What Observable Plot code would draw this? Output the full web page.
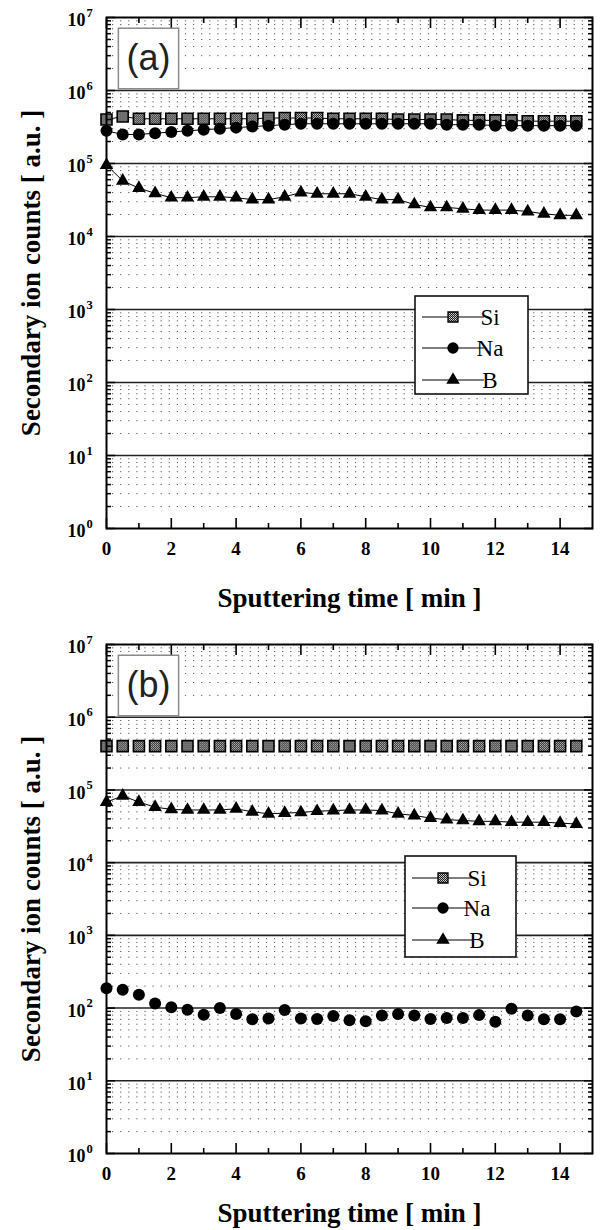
<!DOCTYPE html>
<html><head><meta charset="utf-8">
<script src="https://cdn.jsdelivr.net/npm/d3@7"></script>
<script src="https://cdn.jsdelivr.net/npm/@observablehq/plot@0.6"></script>
<style>
html,body{margin:0;padding:0;background:#fff;}
#chart svg{display:block;}
</style></head><body><div id="chart"></div>
<script>
// ---- data ----
const time = [0,0.5,1,1.5,2,2.5,3,3.5,4,4.5,5,5.5,6,6.5,7,7.5,8,8.5,9,9.5,10,10.5,11,11.5,12,12.5,13,13.5,14,14.5];
const siA = [4.0e5,4.4e5,4.1e5,4.1e5,4.1e5,4.1e5,4.1e5,4.1e5,4.1e5,4.1e5,4.2e5,4.2e5,4.2e5,4.2e5,4.1e5,4.1e5,4.1e5,4.1e5,4.0e5,4.0e5,4.0e5,4.0e5,3.9e5,3.9e5,3.9e5,3.9e5,3.8e5,3.8e5,3.8e5,3.8e5];
const naA = [2.8e5,2.5e5,2.5e5,2.6e5,2.7e5,2.8e5,2.9e5,3.0e5,3.1e5,3.2e5,3.3e5,3.4e5,3.5e5,3.5e5,3.5e5,3.5e5,3.5e5,3.5e5,3.5e5,3.5e5,3.5e5,3.4e5,3.4e5,3.4e5,3.3e5,3.3e5,3.3e5,3.3e5,3.3e5,3.3e5];
const bA  = [9.5e4,5.8e4,4.6e4,3.9e4,3.4e4,3.4e4,3.5e4,3.5e4,3.4e4,3.2e4,3.2e4,3.5e4,4.0e4,3.85e4,3.85e4,3.85e4,3.5e4,3.2e4,3.2e4,2.75e4,2.5e4,2.5e4,2.4e4,2.3e4,2.3e4,2.3e4,2.2e4,2.05e4,1.95e4,1.95e4];
const siB = [4.0e5,4.0e5,4.0e5,4.0e5,4.0e5,4.0e5,4.0e5,4.0e5,4.0e5,4.0e5,4.0e5,4.0e5,4.0e5,4.0e5,4.0e5,4.0e5,4.0e5,4.0e5,4.0e5,4.0e5,4.0e5,4.0e5,4.0e5,4.0e5,4.0e5,4.0e5,4.0e5,4.0e5,4.0e5,4.0e5];
const naB = [188,178,152,116,103,95,81,100,83,70,72,94,72,71,78,68,66,79,83,79,71,73,73,80,65,98,79,70,70,90];
const bB  = [6.8e4,8.3e4,6.8e4,5.8e4,5.4e4,5.3e4,5.3e4,5.3e4,5.5e4,5.0e4,4.7e4,4.8e4,4.9e4,5.1e4,5.2e4,5.3e4,5.3e4,5.2e4,4.7e4,4.45e4,4.1e4,3.9e4,3.8e4,3.7e4,3.7e4,3.6e4,3.6e4,3.6e4,3.5e4,3.4e4];
const seriesNames = ["Si","Na","B"];
const decades = [1,10,100,1e3,1e4,1e5,1e6,1e7];
const xTickLabels = [0,2,4,6,8,10,12,14];
const xMinorTicks = [1,3,5,7,9,11,13];
const minorMultipliers = [2,3,4,5,6,7,8,9];
const yTitle = "Secondary ion counts [ a.u. ]";
const xTitle = "Sputtering time [ min ]";

const minorY = decades.slice(0,-1).flatMap(d => minorMultipliers.map(m => m*d));
const serif = "'Liberation Serif','Times New Roman',serif";

function addDefs(svg, id) {
  const defs = d3.select(svg).insert("defs", ":first-child");
  const p = defs.append("pattern").attr("id", id).attr("width", 2).attr("height", 2).attr("patternUnits", "userSpaceOnUse");
  p.append("rect").attr("width", 2).attr("height", 2).attr("fill", "#1a1a1a");
  p.append("rect").attr("x", 0).attr("y", 0).attr("width", 1).attr("height", 1).attr("fill", "#d8d8d8");
  p.append("rect").attr("x", 1).attr("y", 1).attr("width", 1).attr("height", 1).attr("fill", "#b0b0b0");
}

function drawLegend(svg, ml, mt, L, patId) {
  const g = d3.select(svg).append("g").attr("transform", `translate(${ml},${mt})`);
  g.append("rect").attr("x", L.box[0]).attr("y", L.box[1]).attr("width", L.box[2]).attr("height", L.box[3])
    .attr("fill", "white").attr("stroke", "#111").attr("stroke-width", 1.6);
  const syms = [d3.symbol().type(d3.symbolSquare).size(100), d3.symbol().type(d3.symbolCircle).size(100), d3.symbol().type(d3.symbolTriangle).size(78)];
  const fills = [`url(#${patId})`, "#000", "#000"];
  seriesNames.forEach((name, i) => {
    const y = L.rows[i];
    g.append("line").attr("x1", L.line[0]).attr("x2", L.line[1]).attr("y1", y).attr("y2", y).attr("stroke", "#000").attr("stroke-width", 1.2);
    g.append("path").attr("d", syms[i]()).attr("transform", `translate(${L.mark},${y})`).attr("fill", fills[i]).attr("stroke", "#000").attr("stroke-width", i === 0 ? 1.3 : 0);
    g.append("text").attr("x", L.text).attr("y", y + 8)
      .style("font-family", serif).style("font-size", "23px").style("font-weight", "normal")
      .attr("fill", "#000").text(name);
  });
}

function panel(cfg) {
  const {si, na, b, label, mt, mb, xTitleDy, siLine, naLine, legend, patId} = cfg;
  const rows = time.map((t, i) => ({t, si: si[i], na: na[i], b: b[i]}));
  const fillSi = `url(#${patId})`;
  const tickOpts = {tickFormat: () => "", label: null, stroke: "#000"};
  const marks = [
    Plot.ruleY(minorY, {stroke: "#555", strokeWidth: 1, strokeDasharray: "1.2,6.9", strokeDashoffset: -6}),
    Plot.ruleY(decades.slice(1, -1), {stroke: "#222", strokeWidth: 1.6}),
    siLine ? Plot.line(rows, {x: "t", y: "si", stroke: "#000", strokeWidth: 1}) : null,
    naLine ? Plot.line(rows, {x: "t", y: "na", stroke: "#000", strokeWidth: 1}) : null,
    Plot.line(rows, {x: "t", y: "b", stroke: "#000", strokeWidth: 1}),
    Plot.dot(rows, {x: "t", y: "si", symbol: "square", r: 6.2, fill: fillSi, stroke: "#000", strokeWidth: 1.6}),
    Plot.dot(rows, {x: "t", y: "na", symbol: "circle", r: 6, fill: "#000", stroke: "none"}),
    Plot.dot(rows, {x: "t", y: "b", symbol: "triangle", r: 5, fill: "#000", stroke: "none"}),
    Plot.frame({stroke: "#000", strokeWidth: 2}),
    Plot.axisY({anchor: "left", ticks: decades, tickSize: -9, strokeWidth: 1.5, ...tickOpts}),
    Plot.axisY({anchor: "left", ticks: minorY, tickSize: -5, strokeWidth: 1.5, ...tickOpts}),
    Plot.axisY({anchor: "right", ticks: decades, tickSize: -9, strokeWidth: 1.5, ...tickOpts}),
    Plot.axisY({anchor: "right", ticks: minorY, tickSize: -5, strokeWidth: 1.5, ...tickOpts}),
    Plot.axisX({anchor: "bottom", ticks: xTickLabels, tickSize: -10, strokeWidth: 1.6, ...tickOpts}),
    Plot.axisX({anchor: "bottom", ticks: xMinorTicks, tickSize: -5, strokeWidth: 1.6, ...tickOpts}),
    Plot.axisX({anchor: "top", ticks: xTickLabels, tickSize: -10, strokeWidth: 1.6, ...tickOpts}),
    Plot.axisX({anchor: "top", ticks: xMinorTicks, tickSize: -5, strokeWidth: 1.6, ...tickOpts}),
    // y tick labels 10^n
    Plot.text(decades, {y: d => d, frameAnchor: "left", text: () => "10", textAnchor: "end", lineAnchor: "middle", dx: -21, dy: 3, fontSize: 18, fontWeight: "bold", fill: "#000"}),
    Plot.text(decades, {y: d => d, frameAnchor: "left", text: d => String(Math.round(Math.log10(d))), textAnchor: "start", lineAnchor: "middle", dx: -20, dy: -5, fontSize: 12.5, fontWeight: "bold", fill: "#000"}),
    // x tick labels
    Plot.text(xTickLabels, {x: d => d, frameAnchor: "bottom", text: d => String(d), textAnchor: "middle", lineAnchor: "middle", dy: 20, fontSize: 19, fontWeight: "bold", fill: "#000"}),
    // titles
    Plot.text([xTitle], {frameAnchor: "bottom", text: d => d, textAnchor: "middle", lineAnchor: "middle", dy: xTitleDy, fontSize: 27, fontWeight: "bold", fill: "#000"}),
    Plot.text([yTitle], {frameAnchor: "left", text: d => d, textAnchor: "middle", lineAnchor: "middle", dx: -75, rotate: -90, fontSize: 27, fontWeight: "bold", fill: "#000"}),
    // panel label box
    Plot.dot([label], {frameAnchor: "top-left", dx: 42, dy: 41, symbol: "square", r: 34, fill: "white", stroke: "#8a8a8a", strokeWidth: 1.5}),
    Plot.text([label], {frameAnchor: "top-left", text: d => d, textAnchor: "middle", lineAnchor: "middle", dx: 42, dy: 41, fontSize: 36, fontFamily: "'Liberation Sans',Arial,sans-serif", fill: "#222"})
  ].filter(Boolean);
  const svg = Plot.plot({
    width: 600,
    height: 615,
    marginLeft: 106,
    marginRight: 8,
    marginTop: mt,
    marginBottom: mb,
    style: {fontFamily: serif, background: "white", overflow: "visible"},
    x: {domain: [0, 15]},
    y: {type: "log", domain: [1, 1e7]},
    marks
  });
  addDefs(svg, patId);
  drawLegend(svg, 106, mt, legend, patId);
  return svg;
}

const chart = document.getElementById("chart");
chart.append(panel({
  si: siA, na: naA, b: bA, label: "(a)", mt: 17, mb: 87, xTitleDy: 70, siLine: true, naLine: true, patId: "siPatA",
  legend: {box: [309, 279, 113, 98], rows: [300, 331, 363], line: [316, 378], mark: 347, text: 384}
}));
chart.append(panel({
  si: siB, na: naB, b: bB, label: "(b)", mt: 29, mb: 77, xTitleDy: 60, siLine: false, naLine: false, patId: "siPatB",
  legend: {box: [299, 212, 111, 101], rows: [234, 264, 296], line: [306, 366], mark: 337, text: 371}
}));
</script></body></html>
